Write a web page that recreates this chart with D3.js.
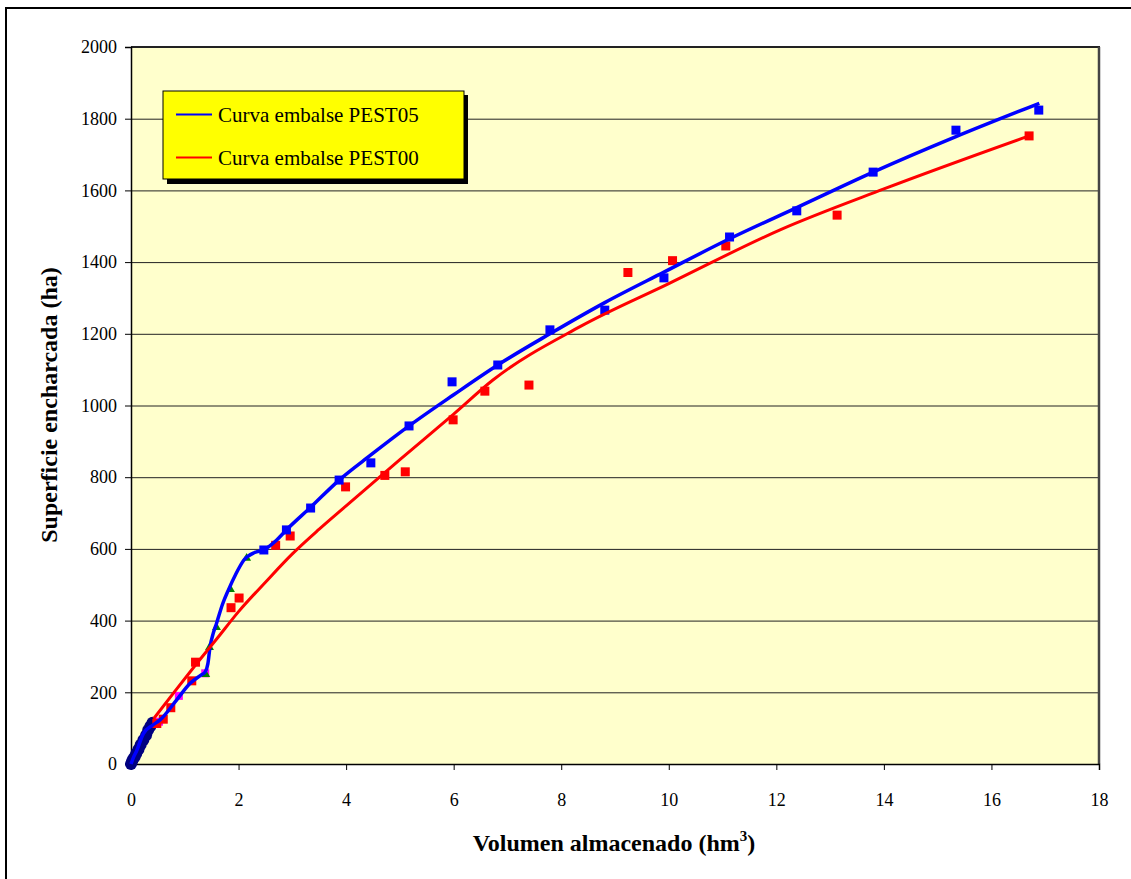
<!DOCTYPE html>
<html><head><meta charset="utf-8">
<script src="https://cdn.jsdelivr.net/npm/d3@7"></script>
<style>body{margin:0;background:#fff}svg{display:block}</style>
</head><body>
<svg id="c" width="1131" height="879"></svg>
<script>
// ---- data ----
const xTicks = [0,2,4,6,8,10,12,14,16,18];
const yTicks = [0,200,400,600,800,1000,1200,1400,1600,1800,2000];

// measured points PEST05 (blue squares)
const pest05X = [2.47,2.89,3.34,3.87,4.46,5.17,5.97,6.82,7.79,8.81,9.91,11.13,12.38,13.80,15.34,16.88];
const pest05Y = [597,653,714,792,840,943,1066,1113,1211,1266,1356,1470,1543,1651,1768,1824];

// measured points PEST00 (red squares)
const pest00X = [0.48,0.60,0.74,1.13,1.20,1.86,2.01,2.69,2.96,3.99,4.72,5.10,5.99,6.58,7.40,9.24,10.07,11.06,13.13,16.70];
const pest00Y = [113,125,157,232,284,436,463,610,636,773,805,815,960,1040,1057,1371,1404,1445,1531,1752];

// green triangles
const triX = [1.39,1.46,1.59,1.85,2.15];
const triY = [250,325,381,487,574];

// magenta squares
const magX = [0.52,0.89,1.38];
const magY = [118,190,253];

// navy circles near origin
const circX = [0.00,0.02,0.04,0.07,0.10,0.14,0.18,0.23,0.28,0.32,0.36,0.40];
const circY = [0,8,14,20,30,41,54,67,80,95,105,115];

// fitted curve PEST05 (blue)
const curve05X = [0,0.05,0.1,0.23,0.4,0.54,0.85,1.10,1.30,1.38,1.43,1.47,1.53,1.59,1.70,1.81,1.95,2.10,2.30,2.46,2.71,2.89,3.34,3.87,4.46,5.17,6.00,6.82,7.79,8.81,9.91,11.13,12.38,13.80,15.34,16.89];
const curve05Y = [0,20,35,85,108,123,179,225,248,257,280,327,365,392,445,485,530,569,590,597,625,653,716,792,862,943,1030,1113,1200,1287,1372,1465,1552,1651,1750,1843];

// fitted curve PEST00 (red)
const curve00X = [0.42,0.8,1.2,1.6,2.0,2.5,3.0,3.5,4.0,5.0,6.0,6.73,8.35,10.0,12.07,14.0,16.70];
const curve00Y = [126,200,276,350,425,507,586,655,720,849,976,1071,1220,1340,1490,1604,1752];

const legendLabels = ["Curva embalse PEST05","Curva embalse PEST00"];
const legendColors = ["#0000FF","#FF0000"];

// ---- drawing ----
const svg = d3.select("#c");
const m = {left:131, right:1099, top:47, bottom:764};
const x = d3.scaleLinear().domain([0,18]).range([m.left,m.right]);
const y = d3.scaleLinear().domain([0,2000]).range([m.bottom,m.top]);
const FONT = "'Liberation Serif','Times New Roman',serif";

// outer frame
svg.append("rect").attr("x",6).attr("y",8).attr("width",1140).attr("height",890)
  .attr("fill","#fff").attr("stroke","#000").attr("stroke-width",2);

// plot background
svg.append("rect").attr("x",m.left).attr("y",m.top).attr("width",m.right-m.left).attr("height",m.bottom-m.top)
  .attr("fill","#FFFFCC");

// gridlines
svg.append("g").selectAll("line").data(yTicks.filter(d=>d>0&&d<2000)).join("line")
  .attr("x1",m.left).attr("x2",m.right).attr("y1",d=>y(d)+0.5).attr("y2",d=>y(d)+0.5)
  .attr("stroke","#222").attr("stroke-width",1);

// plot border top/right
svg.append("line").attr("x1",m.left).attr("x2",m.right+1).attr("y1",m.top).attr("y2",m.top)
  .attr("stroke","#222").attr("stroke-width",2);
svg.append("line").attr("x1",m.right).attr("x2",m.right).attr("y1",m.top).attr("y2",m.bottom)
  .attr("stroke","#444").attr("stroke-width",2.5);

// axes
const fmt = d3.format("d");
const yAxis = d3.axisLeft(y).tickValues(yTicks).tickFormat(fmt).tickSize(6).tickPadding(8);
const xAxis = d3.axisBottom(x).tickValues(xTicks).tickFormat(fmt).tickSize(6).tickPadding(23);
const gy = svg.append("g").attr("transform",`translate(${m.left},0)`).call(yAxis);
const gx = svg.append("g").attr("transform",`translate(0,${m.bottom})`).call(xAxis);
[gy,gx].forEach(g=>{
  g.select(".domain").attr("stroke","#000").attr("stroke-width",1.5);
  g.selectAll(".tick line").attr("stroke","#000");
  g.selectAll("text").attr("font-family",FONT).attr("font-size",18).attr("fill","#000");
});

// legend box
const lg = svg.append("g");
lg.append("rect").attr("x",167).attr("y",95).attr("width",301).attr("height",89).attr("fill","#000");
lg.append("rect").attr("x",163).attr("y",91).attr("width",301).attr("height",88)
  .attr("fill","#FFFF00").attr("stroke","#000").attr("stroke-width",1);
legendLabels.forEach((t,i)=>{
  const yy = 114.5 + i*43;
  lg.append("line").attr("x1",176).attr("x2",212).attr("y1",yy).attr("y2",yy)
    .attr("stroke",legendColors[i]).attr("stroke-width",2);
  lg.append("text").attr("x",218).attr("y",yy+7).text(t)
    .attr("font-family",FONT).attr("font-size",21).attr("fill","#000");
});

// markers
const plot = svg.append("g");
plot.selectAll("circle.n").data(circX.map((v,i)=>[v,circY[i]])).join("circle")
  .attr("cx",d=>x(d[0])).attr("cy",d=>y(d[1])).attr("r",6).attr("fill","#000080");
plot.selectAll("rect.m").data(magX.map((v,i)=>[v,magY[i]])).join("rect")
  .attr("x",d=>x(d[0])-4).attr("y",d=>y(d[1])-4).attr("width",8).attr("height",8).attr("fill","#FF00FF");
plot.selectAll("path.t").data(triX.map((v,i)=>[v,triY[i]])).join("path")
  .attr("d",d3.symbol().type(d3.symbolTriangle).size(34))
  .attr("transform",d=>`translate(${x(d[0])},${y(d[1])})`).attr("fill","#008000");
plot.selectAll("rect.r").data(pest00X.map((v,i)=>[v,pest00Y[i]])).join("rect")
  .attr("x",d=>x(d[0])-4.5).attr("y",d=>y(d[1])-4.5).attr("width",9).attr("height",9).attr("fill","#FF0000");
plot.selectAll("rect.b").data(pest05X.map((v,i)=>[v,pest05Y[i]])).join("rect")
  .attr("x",d=>x(d[0])-4.5).attr("y",d=>y(d[1])-4.5).attr("width",9).attr("height",9).attr("fill","#0000FF");

// curves
const line = d3.line().x(d=>x(d[0])).y(d=>y(d[1])).curve(d3.curveMonotoneX);
plot.append("path").datum(curve05X.map((v,i)=>[v,curve05Y[i]]))
  .attr("d",line).attr("fill","none").attr("stroke","#0000FF").attr("stroke-width",3.5).attr("stroke-linejoin","round");
plot.append("path").datum(curve00X.map((v,i)=>[v,curve00Y[i]]))
  .attr("d",line).attr("fill","none").attr("stroke","#FF0000").attr("stroke-width",3).attr("stroke-linejoin","round");

// titles
svg.append("text").attr("x",614).attr("y",851).attr("text-anchor","middle")
  .attr("font-family",FONT).attr("font-size",24).attr("font-weight","bold")
  .html('Volumen almacenado (hm<tspan dy="-10" font-size="15">3</tspan><tspan dy="10">)</tspan>');
svg.append("text").attr("transform","translate(57,405) rotate(-90)").attr("text-anchor","middle")
  .attr("font-family",FONT).attr("font-size",24).attr("font-weight","bold")
  .text("Superficie encharcada (ha)");
</script>
</body></html>
